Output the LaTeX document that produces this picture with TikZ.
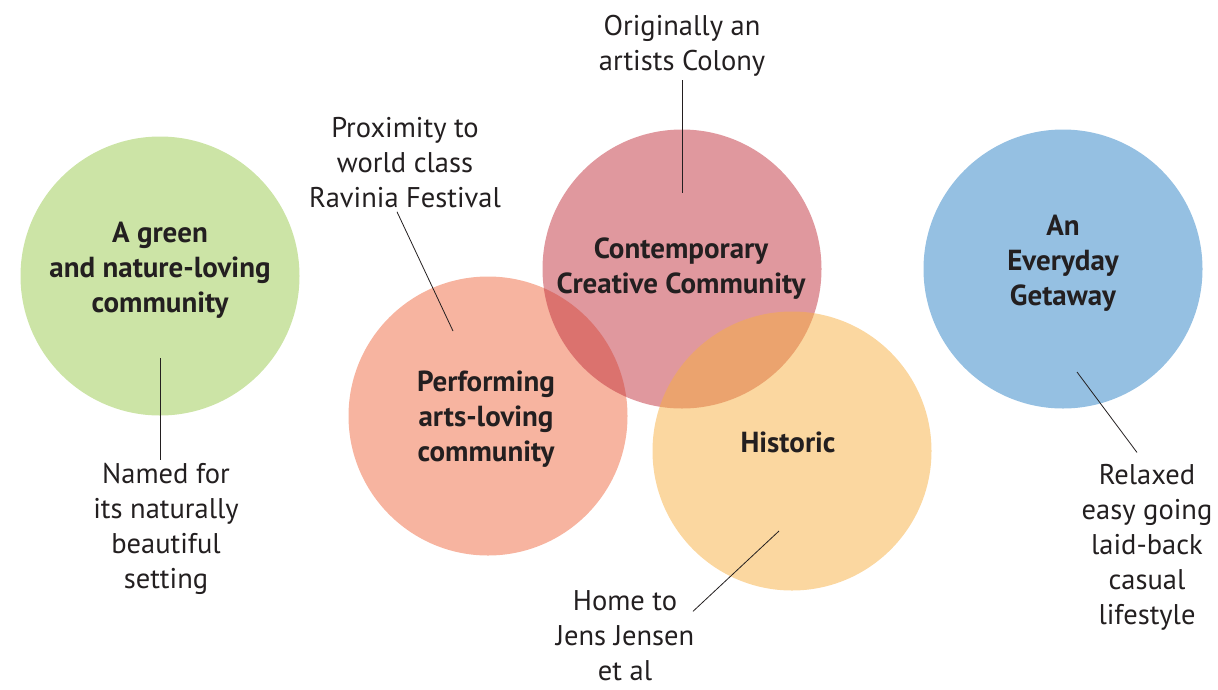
\documentclass[tikz,border=0pt]{standalone}
\usepackage{fontspec}
\setmainfont{PT Sans}
\usetikzlibrary{positioning}
\definecolor{inkgray}{HTML}{231F20}
\definecolor{greenfill}{HTML}{CCE4A6}
\definecolor{salmonfill}{HTML}{F7B4A0}
\definecolor{rosefill}{RGB}{193,49,61}
\definecolor{amberfill}{RGB}{247,175,65}
\definecolor{bluefill}{HTML}{95C0E2}
\begin{document}
\begin{tikzpicture}[x=1pt,y=-1pt,
            bubble/.style={ circle, minimum size=279pt, inner sep=0pt },
            title/.style={ font=\bfseries\fontsize{29}{35}\selectfont, text=inkgray, align=center },
            note/.style={ font=\fontsize{28.5}{35}\selectfont, text=inkgray, align=center },
            pointer/.style={ draw=inkgray, line width=0.8pt }
        ]
        \useasboundingbox (0,0) rectangle (1218,689);

        \node[bubble, fill=greenfill] (green) at (160,276) {};
        \node[bubble, fill=bluefill] (blue) at (1063,269) {};
        \node[bubble, fill=salmonfill] (arts) at (488,416) {};
        \node[bubble, fill=rosefill, fill opacity=0.5] (creative) at (682,269) {};
        \node[bubble, fill=amberfill, fill opacity=0.5] (historic) at (792,451) {};

        \node[title] (greenT) at (160,270) {A green\\and nature-loving\\community};
        \node[title] (blueT) at (1063,263) {An\\Everyday\\Getaway};
        \node[title] (artsT) at (486,419) {Performing\\arts-loving\\community};
        \node[title] (creativeT) at (681,269) {Contemporary\\Creative Community};
        \node[title] (historicT) at (788,442) {Historic};

        \node[note] (colony) at (682,46) {Originally an\\artists Colony};
        \node[note] (ravinia) at (405,163) {Proximity to\\world class\\Ravinia Festival};
        \node[note] (named) at (166,529) {Named for\\its naturally\\beautiful\\setting};
        \node[note] (jensen) at (625,636) {Home to\\Jens Jensen\\et al};
        \node[note] (relaxed) at (1147,547) {Relaxed\\easy going\\laid-back\\casual\\lifestyle};

        \coordinate (colonyEnd) at (682,193);
        \coordinate (raviniaEnd) at (453,331);
        \coordinate (namedEnd) at (160,358);
        \coordinate (jensenEnd) at (779,531);
        \coordinate (relaxedEnd) at (1077,372);

        \draw[pointer] (colony.south -| colonyEnd) -- (colonyEnd);
        \draw[pointer] ([xshift=-8pt]ravinia.south) -- (raviniaEnd);
        \draw[pointer] (named.north -| namedEnd) -- (namedEnd);
        \draw[pointer] ([xshift=68pt,yshift=-24pt]jensen.north) -- (jensenEnd);
        \draw[pointer] ([xshift=-10pt,yshift=8pt]relaxed.north) -- (relaxedEnd);
    \end{tikzpicture}
\end{document}
